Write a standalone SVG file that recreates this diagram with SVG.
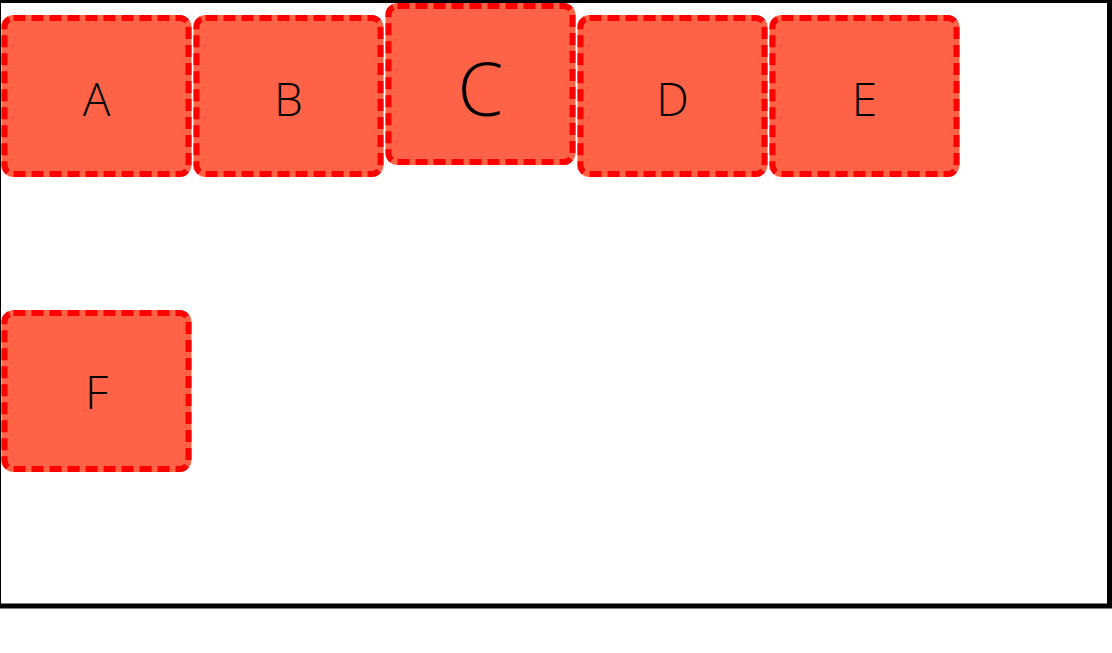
<svg xmlns="http://www.w3.org/2000/svg" width="1112" height="653" viewBox="0 0 1112 653">
  <style>
    .bg { fill: #FF6347; }
    .bd { fill: none; stroke: #FF0000; stroke-width: 6; stroke-dasharray: 12 6; }
    .lbl { font-family: "Open Sans", "Noto Sans", "Liberation Sans", sans-serif; font-weight: 350; font-size: 46px; fill: #000; text-anchor: middle; }
    .big { font-size: 74px; }
  </style>
  <rect x="0" y="0" width="1112" height="653" fill="#FFFFFF"/>
  <rect x="-1.5" y="0.5" width="1111" height="605.5" fill="none" stroke="#000" stroke-width="5"/>
  <g id="connectors"></g>
  <g id="node-A">
    <rect class="bg" x="1.5" y="15" width="190" height="162" rx="12"/>
    <rect class="bd" x="4.5" y="18" width="184" height="156" rx="9"/>
    <text class="lbl" x="96.5" y="116">A</text>
  </g>
  <g id="node-B">
    <rect class="bg" x="193.5" y="15" width="190" height="162" rx="12"/>
    <rect class="bd" x="196.5" y="18" width="184" height="156" rx="9"/>
    <text class="lbl" x="288.5" y="116">B</text>
  </g>
  <g id="node-C">
    <rect class="bg" x="385.5" y="3" width="190" height="162" rx="12"/>
    <rect class="bd" x="388.5" y="6" width="184" height="156" rx="9"/>
    <text class="lbl big" x="480.5" y="115.5">C</text>
  </g>
  <g id="node-D">
    <rect class="bg" x="577.5" y="15" width="190" height="162" rx="12"/>
    <rect class="bd" x="580.5" y="18" width="184" height="156" rx="9"/>
    <text class="lbl" x="672.5" y="116">D</text>
  </g>
  <g id="node-E">
    <rect class="bg" x="769.5" y="15" width="190" height="162" rx="12"/>
    <rect class="bd" x="772.5" y="18" width="184" height="156" rx="9"/>
    <text class="lbl" x="864.5" y="116">E</text>
  </g>
  <g id="node-F">
    <rect class="bg" x="1.5" y="310" width="190" height="162" rx="12"/>
    <rect class="bd" x="4.5" y="313" width="184" height="156" rx="9"/>
    <text class="lbl" x="96.5" y="408.5">F</text>
  </g>
</svg>
